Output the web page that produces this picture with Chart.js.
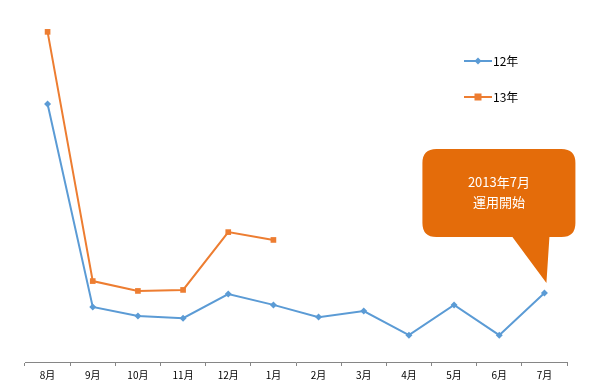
<!DOCTYPE html>
<html>
<head>
<meta charset="utf-8">
<script src="https://cdn.jsdelivr.net/npm/chart.js@4.4.0/dist/chart.umd.min.js"></script>
<style>
  html, body { margin: 0; padding: 0; background: #fff; }
  #wrap { width: 598px; height: 386px; position: relative; }
</style>
</head>
<body>
<div id="wrap"><canvas id="chart" width="598" height="386"></canvas></div>
<script>
// データ
const months = ["8月", "9月", "10月", "11月", "12月", "1月", "2月", "3月", "4月", "5月", "6月", "7月"]
const values12 = [75.9, 16.2, 13.5, 12.9, 20.0, 16.8, 13.2, 15.0, 7.9, 16.8, 7.9, 20.3]
const values13 = [97.1, 23.8, 20.9, 21.2, 38.2, 35.9, null, null, null, null, null, null]
const seriesNames = ["12年", "13年"]
const calloutLines = ["2013年7月", "運用開始"]

const blue = "#5B9BD5"
const orange = "#ED7D31"
const calloutColor = "#E46C0A"
const labelFont = '"Noto Sans CJK JP", "DejaVu Sans", sans-serif'

// 凡例（グラフ内右上）
const legendPlugin = {
  id: "insideLegend",
  afterDraw(chart) {
    const ctx = chart.ctx
    chart.data.datasets.forEach((ds, i) => {
      const y = 61 + i * 36
      ctx.save()
      ctx.strokeStyle = ds.borderColor
      ctx.lineWidth = 2
      ctx.beginPath()
      ctx.moveTo(464, y)
      ctx.lineTo(492, y)
      ctx.stroke()
      ctx.fillStyle = ds.backgroundColor
      if (ds.pointStyle === "rectRot") {
        ctx.beginPath()
        ctx.moveTo(478, y - 3.5)
        ctx.lineTo(481.5, y)
        ctx.lineTo(478, y + 3.5)
        ctx.lineTo(474.5, y)
        ctx.closePath()
        ctx.fill()
      } else {
        ctx.fillRect(474.5, y - 3.5, 7, 7)
      }
      ctx.fillStyle = "#000"
      ctx.font = "12px " + labelFont
      ctx.textBaseline = "middle"
      ctx.fillText(ds.label, 493, y)
      ctx.restore()
    })
  },
}

// 吹き出し（最後の点を指す）
const calloutPlugin = {
  id: "callout",
  afterDraw(chart) {
    const meta = chart.getDatasetMeta(0)
    const pt = meta.data[meta.data.length - 1]
    const px = pt.x, py = pt.y
    const ctx = chart.ctx
    const left = px - 122, right = px + 31, top = py - 144, bottom = py - 56
    const r = 14
    ctx.save()
    ctx.fillStyle = calloutColor
    ctx.beginPath()
    ctx.moveTo(left + r, top)
    ctx.lineTo(right - r, top)
    ctx.quadraticCurveTo(right, top, right, top + r)
    ctx.lineTo(right, bottom - r)
    ctx.quadraticCurveTo(right, bottom, right - r, bottom)
    ctx.lineTo(px + 5, bottom)
    ctx.lineTo(px + 2, py - 10)
    ctx.lineTo(px - 32, bottom)
    ctx.lineTo(left + r, bottom)
    ctx.quadraticCurveTo(left, bottom, left, bottom - r)
    ctx.lineTo(left, top + r)
    ctx.quadraticCurveTo(left, top, left + r, top)
    ctx.closePath()
    ctx.fill()
    ctx.fillStyle = "#fff"
    ctx.font = "13px " + labelFont
    ctx.textAlign = "center"
    ctx.textBaseline = "middle"
    const cx = (left + right) / 2
    ctx.fillText(calloutLines[0], cx, top + 33)
    ctx.fillText(calloutLines[1], cx, top + 53)
    ctx.restore()
  },
}

new Chart(document.getElementById("chart"), {
  type: "line",
  data: {
    labels: months,
    datasets: [
      {
        label: seriesNames[0],
        data: values12,
        borderColor: blue,
        backgroundColor: blue,
        borderWidth: 2,
        pointStyle: "rectRot",
        pointRadius: 3.5,
        pointBorderWidth: 0,
        tension: 0,
      },
      {
        label: seriesNames[1],
        data: values13,
        borderColor: orange,
        backgroundColor: orange,
        borderWidth: 2,
        pointStyle: "rect",
        pointRadius: 4,
        pointBorderWidth: 0,
        tension: 0,
        spanGaps: false,
      },
    ],
  },
  options: {
    responsive: false,
    animation: false,
    layout: { padding: { left: 25, right: 31, top: 22, bottom: 2 } },
    plugins: {
      legend: { display: false },
      tooltip: { enabled: false },
    },
    scales: {
      x: {
        offset: true,
        grid: {
          offset: true,
          drawOnChartArea: false,
          drawTicks: true,
          tickLength: 4,
          color: "#868686",
        },
        border: { color: "#868686", width: 1 },
        ticks: {
          color: "#000",
          padding: 3,
          maxRotation: 0,
          autoSkip: false,
          font: { size: 10, family: labelFont },
        },
      },
      y: {
        display: false,
        min: 0,
        max: 100,
      },
    },
  },
  plugins: [legendPlugin, calloutPlugin],
})
</script>
</body>
</html>
